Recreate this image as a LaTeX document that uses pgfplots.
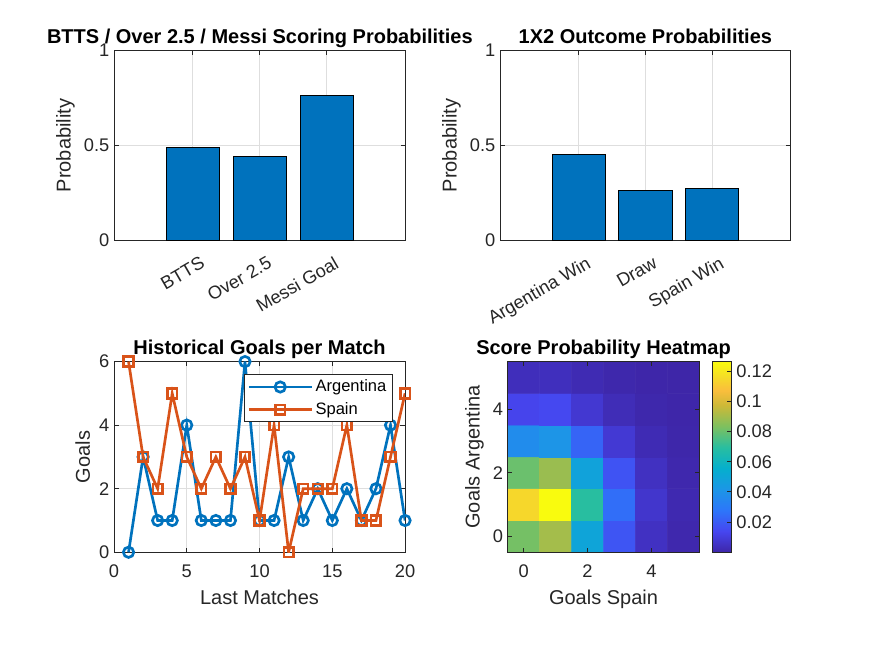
\documentclass[border=0pt]{standalone}
\usepackage{fontspec}
\setmainfont{Liberation Sans}
\usepackage{pgfplots}
\pgfplotsset{compat=1.18}

\definecolor{mblue}{rgb}{0,0.447,0.741}
\definecolor{morange}{rgb}{0.85,0.325,0.098}
\definecolor{axgray}{rgb}{0.15,0.15,0.15}
\definecolor{gridgray}{rgb}{0.87,0.87,0.87}

\pgfplotsset{
  colormap={parula}{
    rgb255(0)=(62,38,168) rgb255(11)=(70,70,240) rgb255(22)=(45,118,250)
    rgb255(33)=(28,150,230) rgb255(44)=(5,175,205) rgb255(55)=(40,190,160)
    rgb255(66)=(125,192,95) rgb255(77)=(205,185,55) rgb255(85)=(250,190,60)
    rgb255(92)=(245,220,40) rgb255(100)=(249,251,14)},
  mstyle/.style={
    scale only axis,
    anchor=south west,
    axis line style={axgray, line width=0.75pt},
    tick style={axgray, line width=0.75pt},
    major tick length=3.5pt,
    tick align=inside,
    tick pos=both,
    tick label style={font=\fontsize{13.7}{16}\selectfont, text=axgray},
    label style={font=\fontsize{15}{18}\selectfont, text=axgray},
    title style={font=\bfseries\fontsize{15}{18}\selectfont, text=black,
      at={(0.5,1)}, anchor=base, yshift=-0.5pt},
    /pgf/number format/assume math mode=true,
    grid style={gridgray, line width=0.75pt},
  },
  % horizontal tick labels and x label sit a little lower
  lowx/.style={
    xticklabel style={yshift=-6pt},
    xlabel style={yshift=-2.5pt},
  },
  % slanted category labels
  slantx/.style={
    xticklabel style={rotate=30, anchor=north east, xshift=2pt, yshift=-9pt},
  },
}

\begin{document}
\begin{tikzpicture}
\path[use as bounding box] (0,0) rectangle (656.25pt,492pt);

% BTTS / Over 2.5 / Messi
\begin{axis}[mstyle, slantx, at={(85.5pt,311.8pt)}, width=218.8pt, height=142.2pt,
  title={BTTS / Over 2.5 / Messi Scoring Probabilities},
  xmin=-0.18, xmax=4.18, ymin=0, ymax=1,
  ytick={0,0.5,1}, xtick={1,2,3},
  xticklabels={BTTS,Over 2.5,Messi Goal},
  ylabel={Probability}, grid=major]
\addplot[ybar, bar width=0.8, fill=mblue, draw=black, line width=0.75pt]
  coordinates {(1,0.490) (2,0.443) (3,0.763)};
\end{axis}

% 1X2 outcome
\begin{axis}[mstyle, slantx, at={(375pt,311.8pt)}, width=218pt, height=142.2pt,
  title={1X2 Outcome Probabilities},
  xmin=-0.18, xmax=4.18, ymin=0, ymax=1,
  ytick={0,0.5,1}, xtick={1,2,3},
  xticklabels={Argentina Win,Draw,Spain Win},
  ylabel={Probability}, grid=major]
\addplot[ybar, bar width=0.8, fill=mblue, draw=black, line width=0.75pt]
  coordinates {(1,0.451) (2,0.262) (3,0.272)};
\end{axis}

% Historical goals
\begin{axis}[mstyle, lowx, at={(85.5pt,77.8pt)}, width=218.3pt, height=143pt,
  title={Historical Goals per Match},
  xmin=0, xmax=20, ymin=0, ymax=6,
  xtick={0,5,10,15,20}, ytick={0,2,4,6},
  xlabel={Last Matches}, ylabel={Goals}, grid=major,
  clip mode=individual,
  legend cell align=left,
  legend style={at={(0.958,0.934)}, anchor=north east,
    draw=axgray, line width=0.75pt, fill=white,
    font=\fontsize{12.4}{14}\selectfont, text=black,
    inner xsep=2.5pt, inner ysep=2pt, row sep=2.5pt},
  legend image code/.code={
    \draw[mark repeat=2, mark phase=2]
      plot coordinates {(0pt,0pt) (23.5pt,0pt) (47pt,0pt)};}]
\addplot[mblue, line width=2pt, mark=o, mark size=3.9pt] coordinates {
  (1,0) (2,3) (3,1) (4,1) (5,4) (6,1) (7,1) (8,1) (9,6) (10,1)
  (11,1) (12,3) (13,1) (14,2) (15,1) (16,2) (17,1) (18,2) (19,4) (20,1)};
\addlegendentry{Argentina}
\addplot[morange, line width=2pt, mark=square, mark size=3.6pt] coordinates {
  (1,6) (2,3) (3,2) (4,5) (5,3) (6,2) (7,3) (8,2) (9,3) (10,1)
  (11,4) (12,0) (13,2) (14,2) (15,2) (16,4) (17,1) (18,1) (19,3) (20,5)};
\addlegendentry{Spain}
\end{axis}

% Score probability heatmap
\begin{axis}[mstyle, lowx, at={(380.8pt,77.8pt)}, width=143.7pt, height=143pt,
  title={Score Probability Heatmap},
  xmin=-0.5, xmax=5.5, ymin=-0.5, ymax=5.5,
  xtick={0,2,4}, ytick={0,2,4},
  xlabel={Goals Spain}, ylabel={Goals Argentina},
  axis on top,
  colormap name=parula,
  point meta min=0.00005, point meta max=0.12641,
  colorbar,
  colorbar style={
    at={(1.0679,0)}, anchor=south west,
    width=14.5pt,
    axis line style={axgray, line width=0.75pt},
    tick style={axgray, line width=0.75pt},
    major tick length=3.5pt,
    tick align=inside,
    ytick pos=right, yticklabel pos=right,
    ytick={0.02,0.04,0.06,0.08,0.1,0.12},
    scaled y ticks=false,
    yticklabel style={font=\fontsize{13.7}{16}\selectfont, text=axgray,
      /pgf/number format/fixed, /pgf/number format/precision=2,
      /pgf/number format/assume math mode=true}}]
\addplot[matrix plot*, mesh/cols=6, point meta=explicit] table[meta=z] {
x y z
0 0 0.08209
1 0 0.09029
2 0 0.04966
3 0 0.01821
4 0 0.00501
5 0 0.00110
0 1 0.11492
1 1 0.12641
2 1 0.06953
3 1 0.02549
4 1 0.00701
5 1 0.00154
0 2 0.08044
1 2 0.08849
2 2 0.04867
3 2 0.01785
4 2 0.00491
5 2 0.00108
0 3 0.03754
1 3 0.04129
2 3 0.02271
3 3 0.00833
4 3 0.00229
5 3 0.00050
0 4 0.01314
1 4 0.01445
2 4 0.00795
3 4 0.00291
4 4 0.00080
5 4 0.00018
0 5 0.00368
1 5 0.00405
2 5 0.00223
3 5 0.00082
4 5 0.00022
5 5 0.00005
};
\end{axis}
\end{tikzpicture}
\end{document}
